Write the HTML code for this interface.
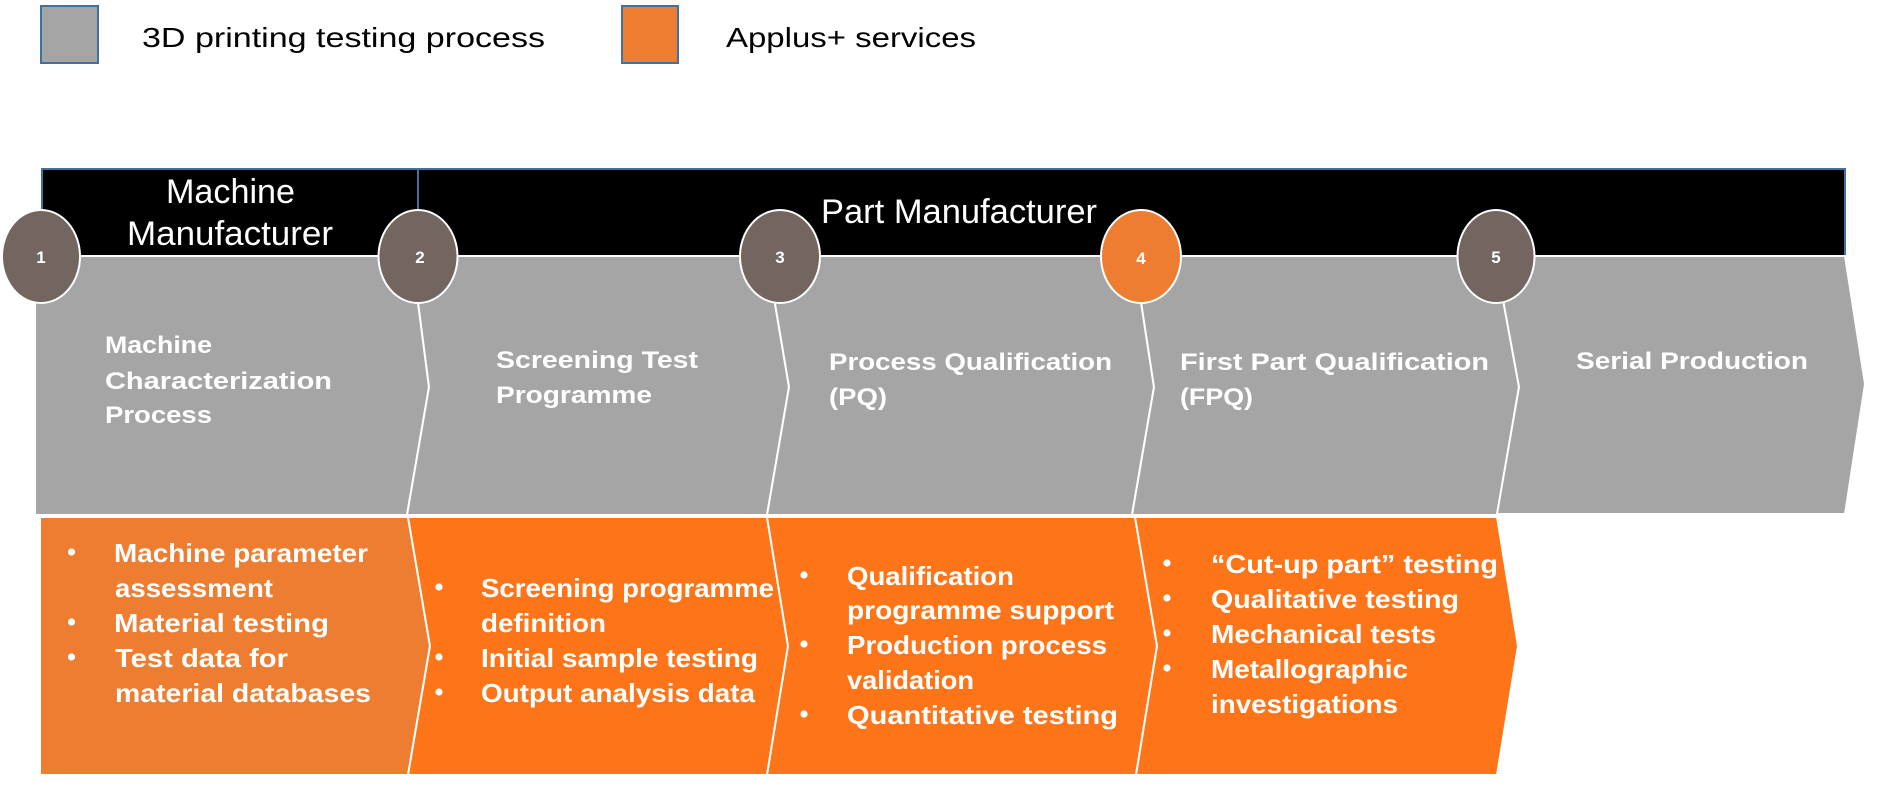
<!DOCTYPE html>
<html>
<head>
<meta charset="utf-8">
<style>
  html, body { margin: 0; padding: 0; background: #ffffff; }
  svg { display: block; }
  .lg { font-family: "Liberation Sans", sans-serif; font-size: 28px; fill: #000; }
  .hd { font-family: "Liberation Sans", sans-serif; font-size: 34px; fill: #fff; }
  .gt { font-family: "Liberation Sans", sans-serif; font-weight: bold; font-size: 24px; fill: #fff; }
  .bt { font-family: "Liberation Sans", sans-serif; font-weight: bold; font-size: 26px; fill: #fff; }
  .nm { font-family: "Liberation Sans", sans-serif; font-weight: bold; font-size: 17px; fill: #fff; }
</style>
</head>
<body>
<svg width="1904" height="788" viewBox="0 0 1904 788" xmlns="http://www.w3.org/2000/svg">
  <rect x="0" y="0" width="1904" height="788" fill="#ffffff"/>

  <!-- Legend -->
  <rect x="41" y="6" width="57" height="57" fill="#A5A5A5" stroke="#41719C" stroke-width="2"/>
  <text class="lg" x="142" y="47" textLength="403" lengthAdjust="spacingAndGlyphs">3D printing testing process</text>
  <rect x="622" y="6" width="56" height="57" fill="#ED7D31" stroke="#41719C" stroke-width="2"/>
  <text class="lg" x="726" y="47" textLength="250" lengthAdjust="spacingAndGlyphs">Applus+ services</text>

  <!-- Header black bars -->
  <rect x="42" y="169" width="376" height="88" fill="#000" stroke="#41719C" stroke-width="2"/>
  <rect x="418" y="169" width="1427" height="87" fill="#000" stroke="#41719C" stroke-width="2"/>
  <text class="hd" x="166" y="203" textLength="129" lengthAdjust="spacingAndGlyphs">Machine</text>
  <text class="hd" x="127" y="245" textLength="206" lengthAdjust="spacingAndGlyphs">Manufacturer</text>
  <text class="hd" x="821" y="223" textLength="276" lengthAdjust="spacingAndGlyphs">Part Manufacturer</text>

  <!-- Gray chevrons -->
  <g fill="#A5A5A5" stroke="#ffffff" stroke-width="2" stroke-linejoin="miter">
    <polygon points="35,256 412,256 429,387 407,515 35,515"/>
    <polygon points="412,256 767,256 789,387 767,515 407,515 429,387"/>
    <polygon points="767,256 1134,256 1154,387 1132,515 767,515 789,387"/>
    <polygon points="1134,256 1495,256 1519,387 1497,515 1132,515 1154,387"/>
    <polygon points="1495,256 1845,256 1865,384 1845,514 1497,514 1519,387"/>
  </g>
  <rect x="35" y="254" width="37" height="2" fill="#A5A5A5"/>

  <!-- Orange chevrons -->
  <g stroke="#ffffff" stroke-width="2">
    <polygon points="40,517 408,517 430,646 408,775 40,775" fill="#ED7D31"/>
    <polygon points="408,517 767,517 788,646 767,775 408,775 430,646" fill="#FE7519"/>
    <polygon points="767,517 1135,517 1157,646 1136,775 767,775 788,646" fill="#FE7519"/>
    <polygon points="1135,517 1497,517 1518,646 1497,775 1136,775 1157,646" fill="#FE7519"/>
  </g>
  <rect x="40" y="775" width="1460" height="6" fill="#ffffff"/>

  <!-- Circles -->
  <g stroke="#ffffff" stroke-width="2">
    <ellipse cx="41" cy="256.5" rx="39" ry="46.5" fill="#736661"/>
    <ellipse cx="418" cy="256.5" rx="39.5" ry="46.5" fill="#736661"/>
    <ellipse cx="780" cy="256.5" rx="40" ry="46.5" fill="#736661"/>
    <ellipse cx="1141" cy="256.5" rx="40" ry="46.5" fill="#ED7D31"/>
    <ellipse cx="1496" cy="256.5" rx="38.5" ry="46.5" fill="#736661"/>
  </g>
  <text class="nm" x="41" y="263" text-anchor="middle">1</text>
  <text class="nm" x="420" y="263" text-anchor="middle">2</text>
  <text class="nm" x="780" y="263" text-anchor="middle">3</text>
  <text class="nm" x="1141" y="264" text-anchor="middle">4</text>
  <text class="nm" x="1496" y="263" text-anchor="middle">5</text>

  <!-- Gray texts -->
  <text class="gt" x="105" y="353" textLength="107" lengthAdjust="spacingAndGlyphs">Machine</text>
  <text class="gt" x="105" y="389" textLength="227" lengthAdjust="spacingAndGlyphs">Characterization</text>
  <text class="gt" x="105" y="423" textLength="107" lengthAdjust="spacingAndGlyphs">Process</text>

  <text class="gt" x="496" y="368" textLength="202" lengthAdjust="spacingAndGlyphs">Screening Test</text>
  <text class="gt" x="496" y="403" textLength="156" lengthAdjust="spacingAndGlyphs">Programme</text>

  <text class="gt" x="829" y="370" textLength="283" lengthAdjust="spacingAndGlyphs">Process Qualification</text>
  <text class="gt" x="829" y="405" textLength="58" lengthAdjust="spacingAndGlyphs">(PQ)</text>

  <text class="gt" x="1180" y="370" textLength="309" lengthAdjust="spacingAndGlyphs">First Part Qualification</text>
  <text class="gt" x="1180" y="405" textLength="73" lengthAdjust="spacingAndGlyphs">(FPQ)</text>

  <text class="gt" x="1576" y="369" textLength="232" lengthAdjust="spacingAndGlyphs">Serial Production</text>

  <!-- Bullets -->
  <g fill="#ffffff">
    <circle cx="71.5" cy="552" r="3.6"/>
    <circle cx="71.5" cy="622" r="3.6"/>
    <circle cx="71.5" cy="657" r="3.6"/>

    <circle cx="439" cy="587" r="3.6"/>
    <circle cx="439" cy="657" r="3.6"/>
    <circle cx="439" cy="692" r="3.6"/>

    <circle cx="804" cy="575" r="3.6"/>
    <circle cx="804" cy="644" r="3.6"/>
    <circle cx="804" cy="714" r="3.6"/>

    <circle cx="1167" cy="563" r="3.6"/>
    <circle cx="1167" cy="598" r="3.6"/>
    <circle cx="1167" cy="633" r="3.6"/>
    <circle cx="1167" cy="668" r="3.6"/>
  </g>

  <!-- Orange texts block 1 -->
  <text class="bt" x="114" y="562" textLength="254" lengthAdjust="spacingAndGlyphs">Machine parameter</text>
  <text class="bt" x="115" y="597" textLength="158" lengthAdjust="spacingAndGlyphs">assessment</text>
  <text class="bt" x="114" y="632" textLength="215" lengthAdjust="spacingAndGlyphs">Material testing</text>
  <text class="bt" x="115" y="667" textLength="173" lengthAdjust="spacingAndGlyphs">Test data for</text>
  <text class="bt" x="115" y="702" textLength="256" lengthAdjust="spacingAndGlyphs">material databases</text>

  <!-- block 2 -->
  <text class="bt" x="481" y="597" textLength="293" lengthAdjust="spacingAndGlyphs">Screening programme</text>
  <text class="bt" x="481" y="632" textLength="125" lengthAdjust="spacingAndGlyphs">definition</text>
  <text class="bt" x="481" y="667" textLength="277" lengthAdjust="spacingAndGlyphs">Initial sample testing</text>
  <text class="bt" x="481" y="702" textLength="274" lengthAdjust="spacingAndGlyphs">Output analysis data</text>

  <!-- block 3 -->
  <text class="bt" x="847" y="585" textLength="167" lengthAdjust="spacingAndGlyphs">Qualification</text>
  <text class="bt" x="847" y="619" textLength="267" lengthAdjust="spacingAndGlyphs">programme support</text>
  <text class="bt" x="847" y="654" textLength="260" lengthAdjust="spacingAndGlyphs">Production process</text>
  <text class="bt" x="847" y="689" textLength="127" lengthAdjust="spacingAndGlyphs">validation</text>
  <text class="bt" x="847" y="724" textLength="271" lengthAdjust="spacingAndGlyphs">Quantitative testing</text>

  <!-- block 4 -->
  <text class="bt" x="1211" y="573" textLength="287" lengthAdjust="spacingAndGlyphs">“Cut-up part” testing</text>
  <text class="bt" x="1211" y="608" textLength="248" lengthAdjust="spacingAndGlyphs">Qualitative testing</text>
  <text class="bt" x="1211" y="643" textLength="225" lengthAdjust="spacingAndGlyphs">Mechanical tests</text>
  <text class="bt" x="1211" y="678" textLength="197" lengthAdjust="spacingAndGlyphs">Metallographic</text>
  <text class="bt" x="1211" y="713" textLength="187" lengthAdjust="spacingAndGlyphs">investigations</text>
</svg>
</body>
</html>
